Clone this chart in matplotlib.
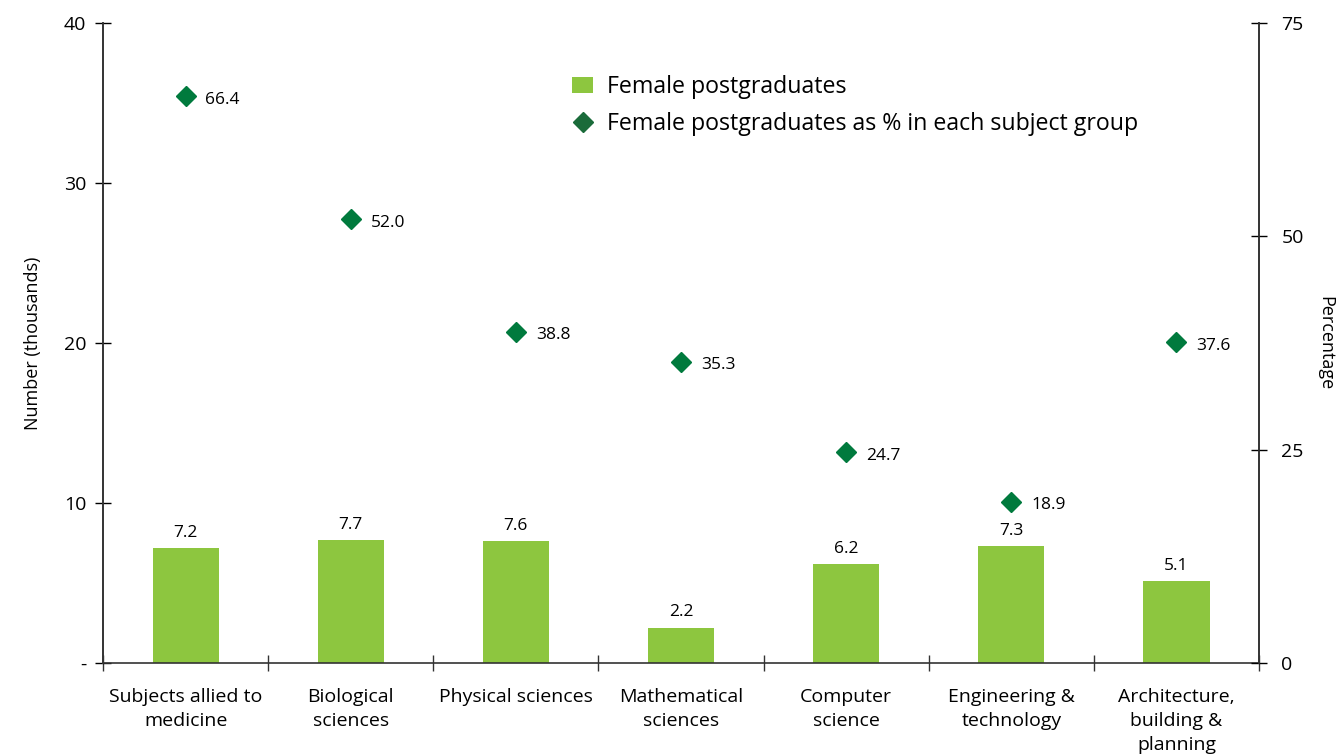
import numpy as np
import matplotlib.pyplot as plt
from matplotlib.lines import Line2D
from matplotlib.patches import Patch

plt.rcParams['font.family'] = ['Open Sans', 'DejaVu Sans']

subjects = ["Subjects allied to\nmedicine", "Biological\nsciences", "Physical sciences",
            "Mathematical\nsciences", "Computer\nscience", "Engineering &\ntechnology",
            "Architecture,\nbuilding &\nplanning"]
female_pg = [7.2, 7.7, 7.6, 2.2, 6.2, 7.3, 5.1]
female_pct = [66.4, 52.0, 38.8, 35.3, 24.7, 18.9, 37.6]

bar_col = '#8dc63f'
dia_col = '#007a3d'

fig = plt.figure(figsize=(13.38, 7.55), dpi=100)
ax = fig.add_axes([0.077, 0.122, 0.864, 0.8475])
ax2 = ax.twinx()

x = np.arange(len(subjects))
ax.bar(x, female_pg, width=0.4, color=bar_col, zorder=2)
for xi, v in zip(x, female_pg):
    ax.text(xi, v + 0.45, f"{v:.1f}", ha='center', va='bottom', fontsize=12.5)

ax2.plot(x, female_pct, linestyle='none', marker='D', markersize=10, color=dia_col, zorder=3)
for xi, v in zip(x, female_pct):
    ax2.text(xi + 0.12, v - 0.4, f"{v:.1f}", ha='left', va='center', fontsize=12.5)

ax.set_xlim(-0.5, len(subjects) - 0.5)
ax.set_ylim(0, 40)
ax2.set_ylim(0, 75)

ax.set_yticks([0, 10, 20, 30, 40])
ax.set_yticklabels(['-', '10', '20', '30', '40'])
ax2.set_yticks([0, 25, 50, 75])

ax.set_xticks(np.arange(-0.5, len(subjects), 1.0))
ax.set_xticklabels([])
ax.set_xticks(x, minor=True)
ax.set_xticklabels(subjects, minor=True, fontsize=14, linespacing=1.42)
ax.tick_params(axis='x', which='minor', length=0, pad=18)
ax.tick_params(axis='x', which='major', direction='inout', length=12, width=1, color='#333333')
ax.tick_params(axis='y', direction='inout', length=12, width=1, labelsize=14, pad=6)
ax2.tick_params(axis='y', direction='inout', length=12, width=1, labelsize=14, pad=10)

for a in (ax, ax2):
    a.spines['top'].set_visible(False)
    for s in ('left', 'right', 'bottom'):
        a.spines[s].set_color('#333333')
        a.spines[s].set_linewidth(1.2)
ax2.spines['bottom'].set_visible(False)

ax.set_ylabel("Number (thousands)", fontsize=13, labelpad=16)
ax2.set_ylabel("Percentage", fontsize=13, rotation=270, labelpad=22)

handles = [Patch(facecolor=bar_col, edgecolor='none'),
           Line2D([], [], linestyle='none', marker='D', markersize=10, color='#1a6b3a')]
labels = ["Female postgraduates", "Female postgraduates as % in each subject group"]
fig.legend(handles, labels, loc='upper left', bbox_to_anchor=(0.412, 0.928),
           frameon=False, fontsize=16.7, handlelength=0.9, handletextpad=0.6,
           labelspacing=0.55)

fig.savefig('out.png', dpi=100)
